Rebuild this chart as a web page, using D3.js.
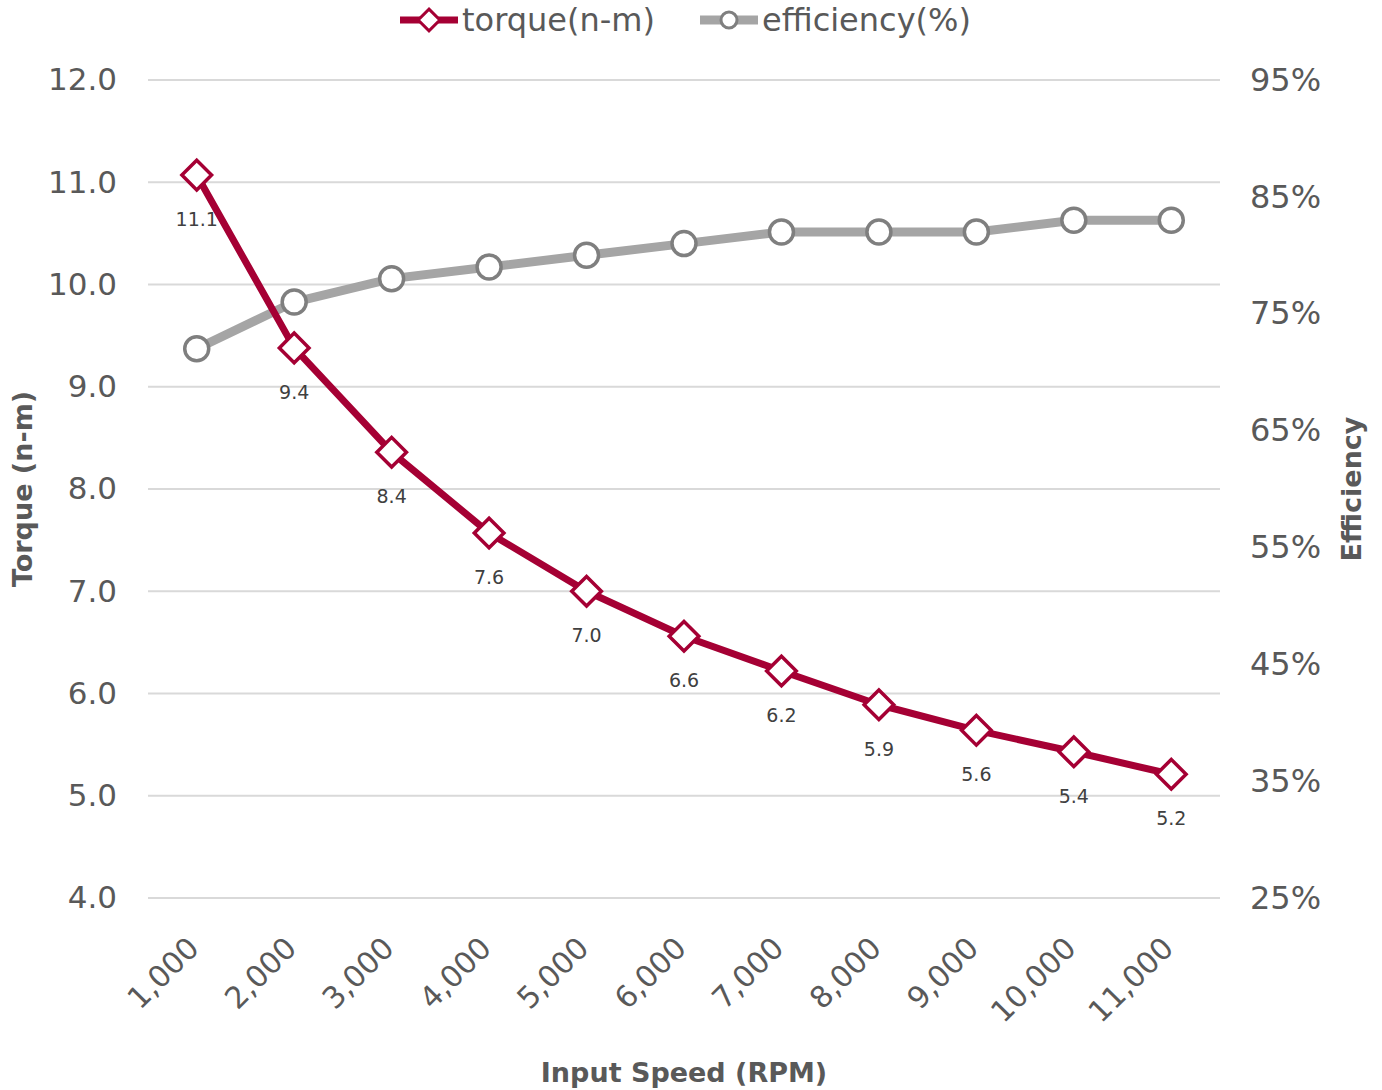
<!DOCTYPE html>
<html>
<head>
<meta charset="utf-8">
<script src="https://cdn.jsdelivr.net/npm/d3@7"></script>
<style>
  body { margin: 0; background: #fff; }
  text { font-family: "DejaVu Sans", Verdana, sans-serif; }
</style>
</head>
<body>
<div id="chart"></div>
<script>
// data
var speeds = [1000, 2000, 3000, 4000, 5000, 6000, 7000, 8000, 9000, 10000, 11000];
var torque = [11.07, 9.38, 8.36, 7.57, 7.0, 6.56, 6.22, 5.89, 5.64, 5.43, 5.21];
var efficiency = [72, 76, 78, 79, 80, 81, 82, 82, 82, 83, 83];
var torqueTicks = [4, 5, 6, 7, 8, 9, 10, 11, 12];
var effTicks = [25, 35, 45, 55, 65, 75, 85, 95];

var W = 1382, H = 1090;
var margin = { top: 80, right: 162, bottom: 192, left: 148 },
    width = W - margin.left - margin.right,
    height = H - margin.top - margin.bottom;

var red = "#a50034", gray = "#a5a5a5", grayDark = "#7f7f7f", txt = "#595959";

var svg = d3.select("#chart").append("svg")
    .attr("width", W)
    .attr("height", H);

var g = svg.append("g")
    .attr("transform", "translate(" + margin.left + "," + margin.top + ")");

var x = d3.scaleBand().domain(speeds).range([0, width]);
var yL = d3.scaleLinear().domain([4, 12]).range([height, 0]);
var yR = d3.scaleLinear().domain([25, 95]).range([height, 0]);
var cx = function(d, i) { return x(speeds[i]) + x.bandwidth() / 2; };

// gridlines
g.selectAll(".grid").data(torqueTicks).enter().append("line")
    .attr("x1", 0).attr("x2", width)
    .attr("y1", function(d) { return yL(d); })
    .attr("y2", function(d) { return yL(d); })
    .attr("stroke", "#d9d9d9").attr("stroke-width", 2);

// left axis
var axL = g.append("g").call(d3.axisLeft(yL).tickValues(torqueTicks).tickFormat(d3.format(".1f")).tickSize(0).tickPadding(31));
axL.select(".domain").remove();
axL.selectAll("text").attr("font-size", 31).attr("fill", txt).attr("font-family", "DejaVu Sans");

// right axis
var axR = g.append("g").attr("transform", "translate(" + width + ",0)")
    .call(d3.axisRight(yR).tickValues(effTicks).tickFormat(function(d) { return d + "%"; }).tickSize(0).tickPadding(30));
axR.select(".domain").remove();
axR.selectAll("text").attr("font-size", 32).attr("fill", txt).attr("font-family", "DejaVu Sans");

// bottom axis
var axB = g.append("g").attr("transform", "translate(0," + height + ")")
    .call(d3.axisBottom(x).tickFormat(d3.format(",")).tickSize(0).tickPadding(0));
axB.select(".domain").remove();
axB.selectAll("text")
    .attr("font-size", 30).attr("fill", txt).attr("font-family", "DejaVu Sans")
    .attr("text-anchor", "end")
    .attr("dy", 0)
    .attr("transform", "translate(4,52) rotate(-45)");

// efficiency line
var lineE = d3.line().x(cx).y(function(d) { return yR(d); });
g.append("path").datum(efficiency)
    .attr("fill", "none").attr("stroke", gray).attr("stroke-width", 9)
    .attr("stroke-linejoin", "round")
    .attr("d", lineE);
g.selectAll(".eff-pt").data(efficiency).enter().append("circle")
    .attr("cx", cx).attr("cy", function(d) { return yR(d); })
    .attr("r", 12)
    .attr("fill", "#fff").attr("stroke", grayDark).attr("stroke-width", 3.5);

// torque line
var lineT = d3.line().x(cx).y(function(d) { return yL(d); });
g.append("path").datum(torque)
    .attr("fill", "none").attr("stroke", red).attr("stroke-width", 7)
    .attr("stroke-linejoin", "round")
    .attr("d", lineT);
var diamond = d3.symbol().type(d3.symbolDiamond2).size(560);
g.selectAll(".tq-pt").data(torque).enter().append("path")
    .attr("d", diamond)
    .attr("transform", function(d, i) { return "translate(" + cx(d, i) + "," + yL(d) + ")"; })
    .attr("fill", "#fff").attr("stroke", red).attr("stroke-width", 3.5);

// data labels
g.selectAll(".tq-lbl").data(torque).enter().append("text")
    .attr("x", cx).attr("y", function(d) { return yL(d) + 51; })
    .attr("text-anchor", "middle")
    .attr("font-family", "'Open Sans', sans-serif")
    .attr("font-size", 19).attr("fill", "#404040")
    .text(function(d) { return d3.format(".1f")(d); });

// axis titles
svg.append("text")
    .attr("x", margin.left + width / 2).attr("y", 1082)
    .attr("text-anchor", "middle").attr("font-size", 27).attr("font-weight", "bold").attr("fill", txt)
    .text("Input Speed (RPM)");
svg.append("text")
    .attr("transform", "translate(32," + (margin.top + height / 2) + ") rotate(-90)")
    .attr("text-anchor", "middle").attr("font-size", 27).attr("font-weight", "bold").attr("fill", txt)
    .text("Torque (n-m)");
svg.append("text")
    .attr("transform", "translate(1361," + (margin.top + height / 2) + ") rotate(-90)")
    .attr("text-anchor", "middle").attr("font-size", 27).attr("font-weight", "bold").attr("fill", txt)
    .text("Efficiency");

// legend
var legend = [
    { name: "torque(n-m)", x: 400, color: red, sw: 7 },
    { name: "efficiency(%)", x: 700, color: gray, sw: 9 }
];
var lg = svg.selectAll(".lg").data(legend).enter().append("g")
    .attr("transform", function(d) { return "translate(" + d.x + ",20)"; });
lg.append("line").attr("x1", 0).attr("x2", 58).attr("y1", 0).attr("y2", 0)
    .attr("stroke", function(d) { return d.color; })
    .attr("stroke-width", function(d) { return d.sw; });
lg.filter(function(d, i) { return i === 0; }).append("path")
    .attr("d", d3.symbol().type(d3.symbolDiamond2).size(300))
    .attr("transform", "translate(29,0)")
    .attr("fill", "#fff").attr("stroke", red).attr("stroke-width", 3);
lg.filter(function(d, i) { return i === 1; }).append("circle")
    .attr("cx", 29).attr("cy", 0).attr("r", 8)
    .attr("fill", "#fff").attr("stroke", grayDark).attr("stroke-width", 3);
lg.append("text").attr("x", 62).attr("y", 0).attr("dy", "0.35em")
    .attr("font-size", 32).attr("fill", txt)
    .text(function(d) { return d.name; });
</script>
</body>
</html>
